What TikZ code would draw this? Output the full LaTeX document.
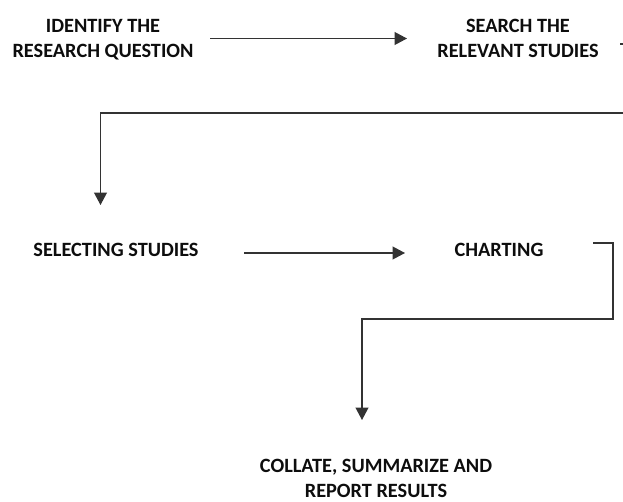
\documentclass[tikz,border=0pt]{standalone}
\usepackage{fontspec}
\setmainfont{Carlito}
\usetikzlibrary{arrows.meta}
\begin{document}
\begin{tikzpicture}[x=1pt,y=-1pt,
  stepbox/.style={inner sep=0pt, align=center, text=black!95,
    font=\bfseries\fontsize{20.3}{24.8}\selectfont},
  conn/.style={draw=black!80, line width=1.2pt},
  arr/.style={conn, -{Triangle[length=12.5pt,width=13pt]}}]
\useasboundingbox (0,0) rectangle (623,501);
\clip (0,0) rectangle (623,501);
% nodes (anchor base = baseline of last line)
\node[stepbox, anchor=base] (idq) at (103,57.5) {IDENTIFY THE\\RESEARCH QUESTION};
\node[stepbox, anchor=base] (srch) at (518,57.5) {SEARCH THE\\RELEVANT STUDIES};
\node[stepbox, anchor=base] (sel) at (116,256.5) {SELECTING STUDIES};
\node[stepbox, anchor=base] (chart) at (499,256.5) {CHARTING};
\node[stepbox, anchor=base] (coll) at (376,497) {COLLATE, SUMMARIZE AND\\REPORT RESULTS};
% connector points
\coordinate (a1s) at (210,38.5);
\coordinate (a1e) at (407,38.5);
\coordinate (b0) at (620,44);
\coordinate (b1) at (640,44);
\coordinate (b2) at (640,113);
\coordinate (b3) at (100.5,113);
\coordinate (b4) at (100.5,205);
\coordinate (c1) at (244,253);
\coordinate (c2) at (405,253);
\coordinate (d0) at (593,243);
\coordinate (d1) at (613,243);
\coordinate (d2) at (613,319);
\coordinate (d3) at (362,319);
\coordinate (d4) at (362,420);
% connectors
\draw[arr] (a1s) -- (a1e);
\draw[arr] (b0) -- (b1) -- (b2) -- (b3) -- (b4);
\draw[arr] (c1) -- (c2);
\draw[arr] (d0) -- (d1) -- (d2) -- (d3) -- (d4);
\end{tikzpicture}
\end{document}
